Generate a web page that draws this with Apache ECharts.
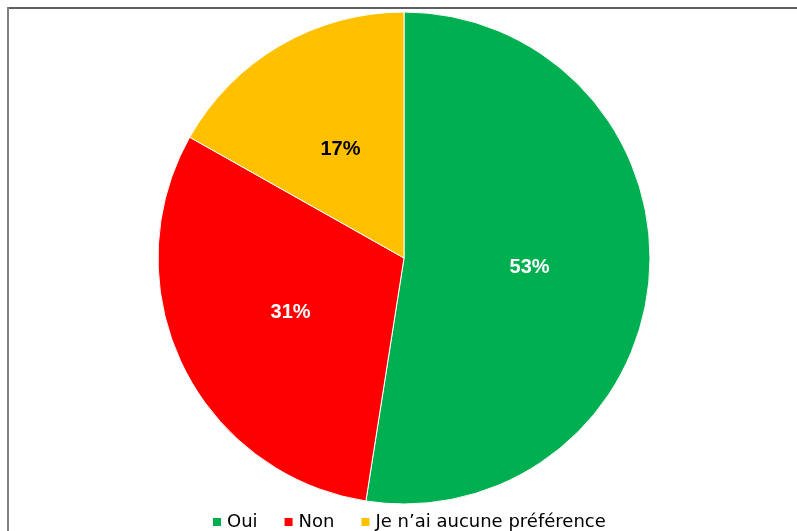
<!DOCTYPE html>
<html><head><meta charset="utf-8">
<script src="https://cdn.jsdelivr.net/npm/echarts@6/dist/echarts.min.js"></script>
<style>html,body{margin:0;padding:0;background:#fff}#c{width:797px;height:531px}</style>
</head><body><div id="c"></div>
<script>
const categories = ['Oui', 'Non', "Je n’ai aucune préférence"];
const values = [53, 31, 17];
const colors = ['#00B050', '#FF0000', '#FFC000'];
const labelColors = ['#ffffff', '#ffffff', '#000000'];

const chart = echarts.init(document.getElementById('c'), null, {renderer: 'canvas'});
chart.setOption({
  animation: false,
  graphic: [
    {type: 'line', shape: {x1: 7, y1: 8, x2: 797, y2: 8}, style: {stroke: '#606060', lineWidth: 2}},
    {type: 'line', shape: {x1: 8, y1: 7, x2: 8, y2: 531}, style: {stroke: '#808080', lineWidth: 2}}
  ],
  legend: {
    top: 512, left: 211,
    padding: 0,
    itemWidth: 10, itemHeight: 10, itemGap: 25,
    icon: 'rect',
    textStyle: {fontFamily: 'DejaVu Sans', fontSize: 18, color: '#000', lineHeight: 20},
    data: categories
  },
  series: [{
    type: 'pie',
    center: [404, 258],
    radius: [0, 246],
    startAngle: 90,
    clockwise: true,
    avoidLabelOverlap: false,
    itemStyle: {borderColor: '#fff', borderWidth: 1},
    label: {
      show: true, position: 'inside',
      formatter: '{c}%',
      fontFamily: 'Liberation Sans, Arial', fontSize: 20, fontWeight: 'bold'
    },
    emphasis: {disabled: true},
    data: categories.map((n, i) => ({
      name: n, value: values[i],
      itemStyle: {color: colors[i]},
      label: {color: labelColors[i]}
    }))
  }]
});
</script></body></html>
